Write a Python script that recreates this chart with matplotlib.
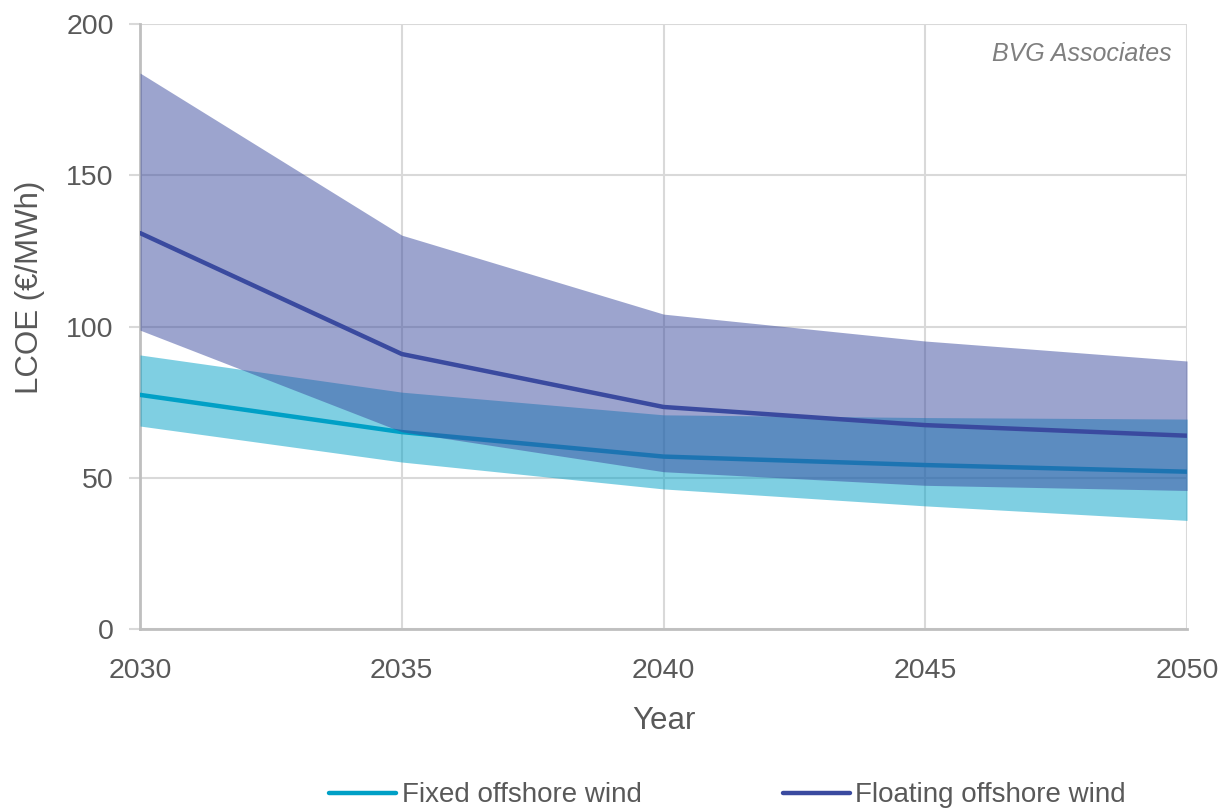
import numpy as np
import matplotlib
matplotlib.use("Agg")
import matplotlib.pyplot as plt

plt.rcParams['font.family'] = ['Liberation Sans', 'DejaVu Sans']

years = [2030, 2035, 2040, 2045, 2050]

# Fixed-bottom offshore wind LCOE (EUR/MWh)
fixed_low = [67.1, 55.2, 46.3, 40.7, 35.9]
fixed_mid = [77.4, 65.1, 57.0, 54.2, 52.0]
fixed_high = [90.6, 78.3, 70.8, 69.9, 69.4]

# Floating offshore wind LCOE (EUR/MWh)
float_low = [98.8, 65.2, 52.0, 47.5, 45.8]
float_mid = [130.9, 90.9, 73.4, 67.4, 63.9]
float_high = [183.8, 130.2, 104.1, 95.2, 88.6]

fixed_col = '#00A0C6'
float_col = '#3A4A9F'
text_col = '#595959'
grid_col = '#D9D9D9'

fig = plt.figure(figsize=(12.21, 8.09), dpi=100)
ax = fig.add_axes([0.1147, 0.2225, 0.8575, 0.7478])

ax.fill_between(years, fixed_low, fixed_high, color=fixed_col, alpha=0.5, lw=0, zorder=2)
ax.plot(years, fixed_mid, color=fixed_col, lw=3.2, solid_capstyle='round', zorder=3,
        label='Fixed offshore wind')
ax.fill_between(years, float_low, float_high, color=float_col, alpha=0.5, lw=0, zorder=4)
ax.plot(years, float_mid, color=float_col, lw=3.2, solid_capstyle='round', zorder=5,
        label='Floating offshore wind')

ax.set_xlim(2030, 2050)
ax.set_ylim(0, 200)
ax.set_xticks(years)
ax.set_yticks([0, 50, 100, 150, 200])

ax.grid(True, color=grid_col, lw=1.5, zorder=1)
ax.set_axisbelow(True)
for s in ['top', 'right']:
    ax.spines[s].set_visible(False)
for s in ['left', 'bottom']:
    ax.spines[s].set_color('#BFBFBF')
    ax.spines[s].set_linewidth(2)
    ax.spines[s].set_zorder(1)

ax.tick_params(axis='y', length=8, width=1.5, color=grid_col, labelsize=20.5,
               labelcolor=text_col, pad=11)
ax.tick_params(axis='x', length=0, labelsize=20.5, labelcolor=text_col, pad=21)

ax.set_xlabel('Year', fontsize=22.5, color=text_col, labelpad=16)
ax.set_ylabel('LCOE (€/MWh)', fontsize=22.5, color=text_col)
ax.yaxis.set_label_coords(-0.091, 0.565)

ax.text(0.985, 0.95, 'BVG Associates', transform=ax.transAxes, ha='right', va='center',
        fontsize=18, style='italic', color='#7F7F7F')

leg = fig.legend(loc='center', bbox_to_anchor=(0.596, 0.017), ncol=2,
                 frameon=False, fontsize=20, handlelength=2.4, handletextpad=0.2,
                 columnspacing=5.1, borderpad=0)
for t in leg.get_texts():
    t.set_color(text_col)

fig.savefig('out.png', dpi=100)
